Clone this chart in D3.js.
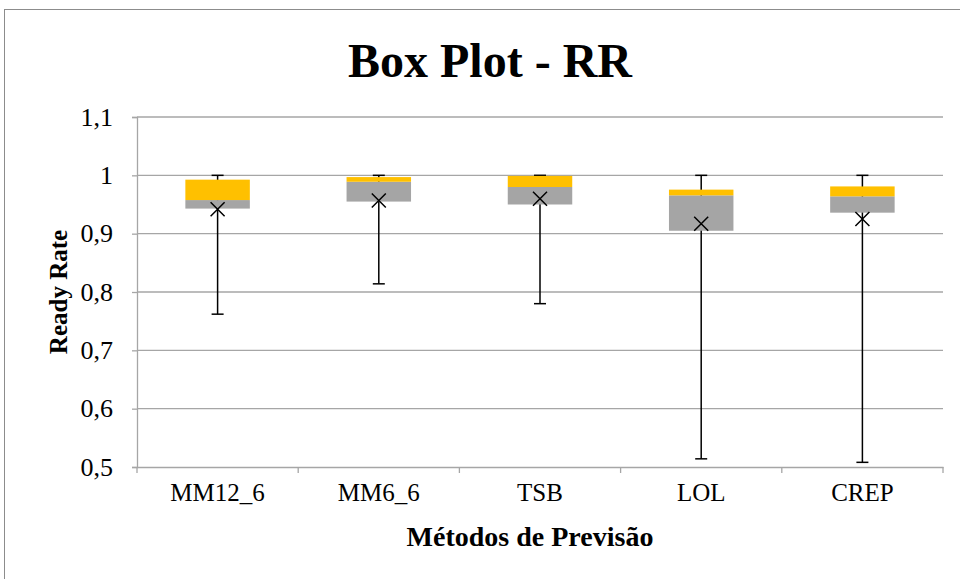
<!DOCTYPE html>
<html><head><meta charset="utf-8">
<script src="https://cdn.jsdelivr.net/npm/d3@7"></script>
<style>body{margin:0;background:#fff}svg{display:block}</style>
</head><body>
<svg id="c" width="960" height="579"></svg>
<script>
const categories = ["MM12_6","MM6_6","TSB","LOL","CREP"];
const minVals  = [0.762, 0.814, 0.780, 0.514, 0.508];
const q1Vals   = [0.943, 0.955, 0.950, 0.905, 0.936];
const medVals  = [0.9576, 0.989, 0.980, 0.9657, 0.964];
const q3Vals   = [0.9926, 0.997, 0.999, 0.9755, 0.981];
const maxVals  = [1.0, 1.0, 1.0, 1.0, 1.0];
const meanVals = [0.942, 0.957, 0.960, 0.917, 0.925];
const yTicks = [0.5,0.6,0.7,0.8,0.9,1.0,1.1];
const tickLabels = ["0,5","0,6","0,7","0,8","0,9","1","1,1"];

const svg = d3.select("#c");
const L=137, R=943, T=117, B=467;
const font = "'Liberation Serif','Times New Roman',serif";

svg.append("rect").attr("x",4.5).attr("y",9.5).attr("width",1200).attr("height",1200)
  .attr("fill","#fff").attr("stroke","#8c8c8c").attr("stroke-width",1);

const x = d3.scaleBand().domain(categories).range([L,R]).padding(0);
const y = d3.scaleLinear().domain([0.5,1.1]).range([B,T]);

svg.append("g").selectAll("line").data(yTicks.filter(d=>d>0.5)).join("line")
  .attr("x1",L).attr("x2",R).attr("y1",d=>y(d)).attr("y2",d=>y(d))
  .attr("stroke","#a6a6a6").attr("stroke-width",1.3);

const ya = svg.append("g").attr("transform",`translate(${L},0)`)
  .call(d3.axisLeft(y).tickValues(yTicks).tickSize(5).tickPadding(19)
    .tickFormat((d,i)=>tickLabels[i]));
ya.select(".domain").attr("stroke","#a6a6a6").attr("stroke-width",1.3);
ya.selectAll(".tick line").attr("stroke","#a6a6a6").attr("stroke-width",1.3);
ya.selectAll("text").attr("font-family",font).attr("font-size",26).attr("fill","#000");

const xa = svg.append("g").attr("transform",`translate(0,${B})`)
  .call(d3.axisBottom(x).tickSize(0).tickPadding(16));
xa.select(".domain").attr("stroke","#a6a6a6").attr("stroke-width",1.3);
xa.selectAll(".tick line").remove();
xa.selectAll("text").attr("font-family",font).attr("font-size",25).attr("fill","#000");
const bounds = categories.map(c=>x(c)).concat([R]);
svg.append("g").selectAll("line").data(bounds).join("line")
  .attr("x1",d=>d).attr("x2",d=>d).attr("y1",B).attr("y2",B+6)
  .attr("stroke","#a6a6a6").attr("stroke-width",1.3);

const bw = x.bandwidth()*0.4;
const cx = c => x(c)+x.bandwidth()/2;
const g = svg.append("g");
categories.forEach((c,i)=>{
  g.append("line").attr("x1",cx(c)).attr("x2",cx(c)).attr("y1",y(maxVals[i])).attr("y2",y(minVals[i]))
    .attr("stroke","#000").attr("stroke-width",1.5);
  [maxVals[i],minVals[i]].forEach(v=>g.append("line")
    .attr("x1",cx(c)-6).attr("x2",cx(c)+6).attr("y1",y(v)).attr("y2",y(v))
    .attr("stroke","#000").attr("stroke-width",1.5));
  g.append("rect").attr("x",cx(c)-bw/2).attr("width",bw)
    .attr("y",y(medVals[i])).attr("height",y(q1Vals[i])-y(medVals[i])).attr("fill","#a5a5a5");
  g.append("rect").attr("x",cx(c)-bw/2).attr("width",bw)
    .attr("y",y(q3Vals[i])).attr("height",y(medVals[i])-y(q3Vals[i])).attr("fill","#ffc000");
  const my=y(meanVals[i]), s=7;
  g.append("path").attr("d",`M${cx(c)-s},${my-s}L${cx(c)+s},${my+s}M${cx(c)-s},${my+s}L${cx(c)+s},${my-s}`)
    .attr("stroke","#000").attr("stroke-width",1.5).attr("fill","none");
});

svg.append("text").attr("x",490).attr("y",77).attr("text-anchor","middle")
  .attr("font-family",font).attr("font-weight","bold").attr("font-size",48).text("Box Plot - RR");
svg.append("text").attr("transform",`translate(67,${(T+B)/2}) rotate(-90)`).attr("text-anchor","middle")
  .attr("font-family",font).attr("font-weight","bold").attr("font-size",25).text("Ready Rate");
svg.append("text").attr("x",530).attr("y",546).attr("text-anchor","middle")
  .attr("font-family",font).attr("font-weight","bold").attr("font-size",28).text("Métodos de Previsão");
</script>
</body></html>
